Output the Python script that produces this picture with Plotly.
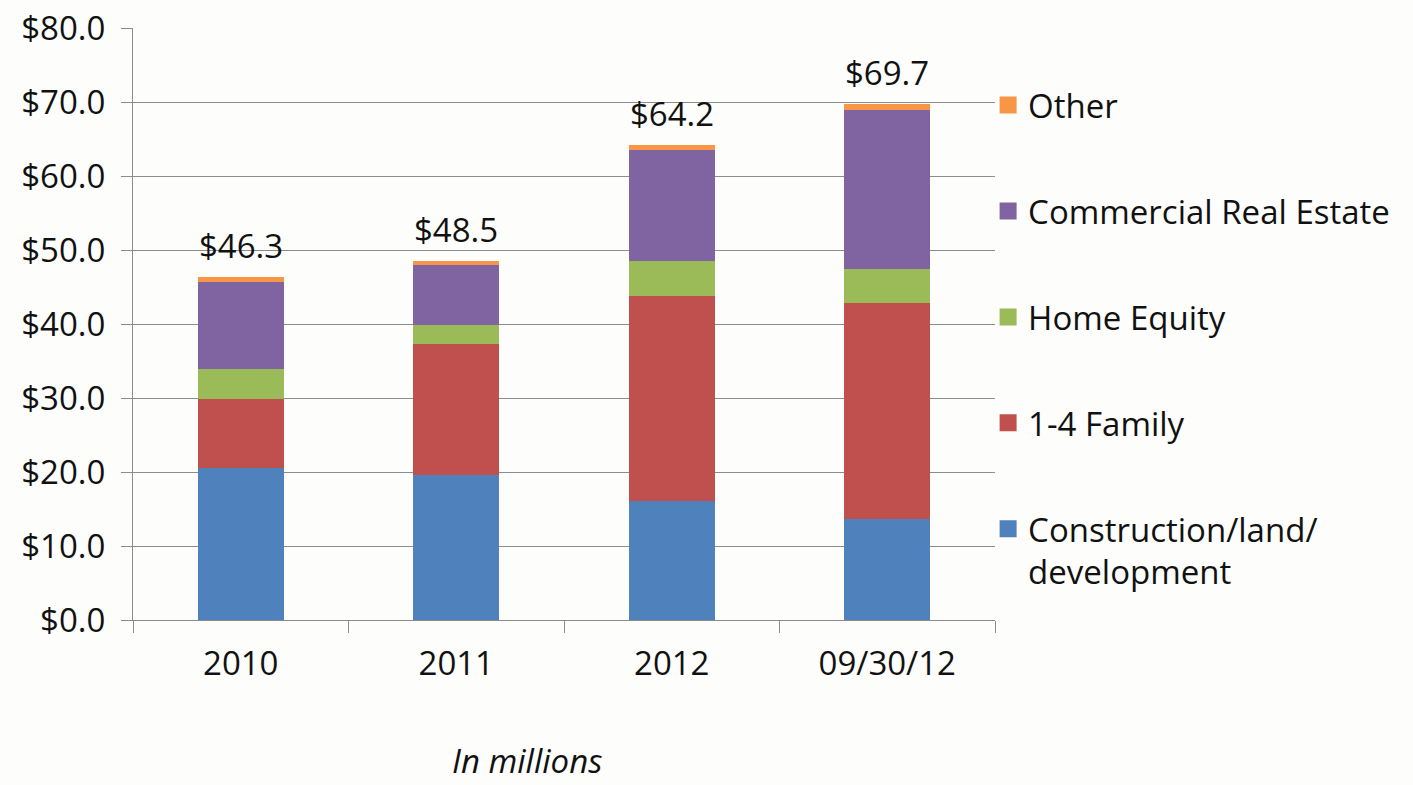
import plotly.graph_objects as go

# Loan balances by category, in millions of dollars
periods = ["2010", "2011", "2012", "09/30/12"]
construction = [20.6, 19.6, 16.1, 13.6]
one_to_four_family = [9.2, 17.7, 27.7, 29.3]
home_equity = [4.1, 2.5, 4.7, 4.6]
commercial_re = [11.8, 8.2, 15.0, 21.4]
other = [0.6, 0.5, 0.7, 0.8]

series = [
    ("Construction/land/<br>development", construction, "#4F81BD"),
    ("1-4 Family", one_to_four_family, "#C0504D"),
    ("Home Equity", home_equity, "#9BBB59"),
    ("Commercial Real Estate", commercial_re, "#8064A2"),
    ("Other", other, "#F79646"),
]

totals = [round(sum(v), 1) for v in zip(*[s[1] for s in series])]

FONT = "Open Sans"
FS = 33
TXT = "#111111"
GRID = "#8c8c8c"

fig = go.Figure()
# stacked bars, bottom segment first
for i, (name, vals, color) in enumerate(series):
    fig.add_trace(go.Bar(
        x=periods, y=vals, name=name, legendgroup=f"g{i}", showlegend=False,
        marker=dict(color=color, line=dict(width=0)),
        hoverinfo="y+name",
    ))
# legend entries with larger swatches (no data of their own), top segment listed first
n = len(series)
for i, (name, vals, color) in enumerate(series):
    fig.add_trace(go.Bar(
        x=[periods[0]], y=[None], name=name, legendgroup=f"g{i}", showlegend=True,
        legendrank=n - i,
        marker=dict(color=color, line=dict(width=5, color=color)),
        hoverinfo="skip",
    ))

# total labels above each stack (category axis positions given by index)
total_labels = [dict(
    x=k, y=t, xref="x", yref="y", text=f"${t:.1f}", showarrow=False,
    xanchor="center", yanchor="bottom", yshift=7,
    font=dict(family=FONT, size=FS, color=TXT),
) for k, t in enumerate(totals)]

fig.update_layout(
    width=1413, height=785,
    margin=dict(l=133, r=418, t=28, b=165),
    paper_bgcolor="#fdfdfb", plot_bgcolor="#fdfdfb",
    barmode="stack", bargap=0.6,
    font=dict(family=FONT, size=FS, color=TXT),
    legend=dict(
        traceorder="grouped", x=0.992, xanchor="left", y=0.917, yanchor="top",
        valign="top", font=dict(family=FONT, size=FS, color=TXT),
        bgcolor="rgba(0,0,0,0)", itemwidth=30, tracegroupgap=60,
    ),
    xaxis=dict(
        type="category", categoryorder="array", categoryarray=periods,
        range=[-0.5, len(periods) - 0.5], automargin=False,
        tickson="boundaries", ticks="outside", ticklen=12,
        tickcolor=GRID, showline=True, linecolor=GRID, linewidth=1,
        showgrid=False, tickfont=dict(family=FONT, size=FS, color=TXT),
        ticklabelstandoff=14, tickangle=0,
    ),
    yaxis=dict(
        range=[0, 80], dtick=10, tickformat="$.1f", ticks="outside", ticklen=11,
        automargin=False,
        tickcolor=GRID, showline=True, linecolor=GRID, linewidth=1,
        showgrid=True, gridcolor=GRID, gridwidth=1, zeroline=False,
        tickfont=dict(family=FONT, size=FS, color=TXT),
        ticklabelstandoff=9,
    ),
    annotations=total_labels + [dict(
        text="<i>In millions</i>", xref="paper", yref="paper",
        x=(527 - 133) / 862, y=(620 - 760) / 592, xanchor="center", yanchor="middle",
        showarrow=False, font=dict(family=FONT, size=FS, color=TXT),
    )],
)

fig.write_html("out.html")
